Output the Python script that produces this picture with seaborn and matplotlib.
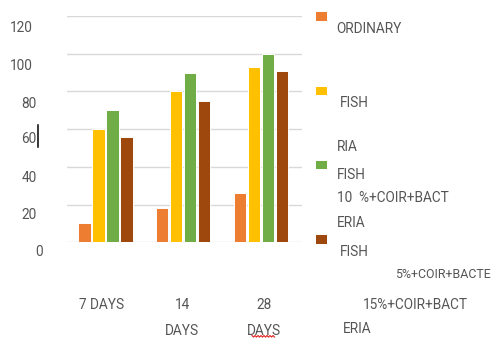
import matplotlib
matplotlib.use("Agg")
import matplotlib.pyplot as plt
import seaborn as sns
import pandas as pd
import numpy as np
from matplotlib.transforms import ScaledTranslation
from matplotlib.lines import Line2D

# ---- data -------------------------------------------------------------
days = ["7 DAYS", "14 DAYS", "28 DAYS"]
day_tick_labels = ["7 DAYS", "14\nDAYS", "28\nDAYS"]
mixes = ["ORDINARY", "FISH 5%+COIR+BACTERIA",
         "FISH 10%+COIR+BACTERIA", "FISH 15%+COIR+BACTERIA"]
ordinary = [10, 18, 26]
fish_5 = [60, 80, 93]
fish_10 = [70, 90, 100]
fish_15 = [56, 75, 91]
y_ticks = [0, 20, 40, 60, 80, 100, 120]
y_tick_labels = ["0", "20", "40", "60", "80", "100", "120"]
legend_fragments = ["ORDINARY", "FISH", "RIA", "FISH", "10  %+COIR+BACT",
                    "ERIA", "FISH", "5%+COIR+BACTE", "15%+COIR+BACT", "ERIA"]

colors = ["#ED7D31", "#FFC000", "#70AD47", "#9E480E"]
TEXT = "#555555"
FS = 9.8

df = pd.DataFrame({
    "day": days * len(mixes),
    "mix": [m for m in mixes for _ in days],
    "strength": ordinary + fish_5 + fish_10 + fish_15,
})

W, H, DPI = 497, 338, 100
plt.rcParams["font.family"] = ["Roboto", "DejaVu Sans"]

fig = plt.figure(figsize=(W / DPI, H / DPI), dpi=DPI)


def px(x, y):
    """pixel position (from top-left) -> figure fraction"""
    return x / W, 1 - y / H


ax = fig.add_axes([66.7 / W, 1 - 242.3 / H, (302 - 66.7) / W, (242.3 - 16) / H])

sns.barplot(data=df, x="day", y="strength", hue="mix", palette=colors,
            width=0.72, gap=0.12, edgecolor="white", linewidth=0.7,
            saturation=1, ax=ax, legend=True)

ax.set_xlim(-0.5, 2.53)
ax.set_ylim(0, 120)
ax.set_xlabel("")
ax.set_ylabel("")
for s in ax.spines.values():
    s.set_visible(False)
ax.set_axisbelow(True)
ax.yaxis.grid(True, color="#d9d9d9", lw=1.0)
ax.xaxis.grid(False)

# y tick labels, each nudged to its own spot
ax.set_yticks(y_ticks)
ax.set_yticklabels(y_tick_labels, fontsize=FS, color=TEXT)
ax.tick_params(axis="y", length=0, pad=0)
y_shift = {"0": (-23.4, 7.7), "20": (-30, 9.4), "40": (-30, 9.6),
           "60": (-30.7, 8.7), "80": (-30, 10.7), "100": (-34.4, 11),
           "120": (-34, 10.7)}
for lab in ax.get_yticklabels():
    dx, dy = y_shift[lab.get_text()]
    lab.set_transform(lab.get_transform() +
                      ScaledTranslation(dx / DPI, -dy / DPI, fig.dpi_scale_trans))

# x tick labels
ax.set_xticks(range(len(days)))
ax.set_xticklabels(day_tick_labels, fontsize=FS, color=TEXT,
                   linespacing=2.1, multialignment="center")
ax.tick_params(axis="x", length=0, pad=39.8)
for lab, dx in zip(ax.get_xticklabels(), [-3.5, -1, 3]):
    lab.set_transform(lab.get_transform() +
                      ScaledTranslation(dx / DPI, 0, fig.dpi_scale_trans))

# legend swatches only; text fragments are placed separately
handles, _ = ax.get_legend_handles_labels()
leg_fs = 8
ax.legend(handles, [""] * len(handles), loc="upper left",
          bbox_to_anchor=px(315, 11.3), bbox_transform=fig.transFigure,
          frameon=False, fontsize=leg_fs, borderpad=0, borderaxespad=0,
          handlelength=12.3 / (leg_fs * DPI / 72),
          handleheight=10.7 / (leg_fs * DPI / 72),
          handletextpad=0, labelspacing=5.72)

frag_pos = [(336, 28.3), (340, 101.7), (336.7, 146), (336.7, 174),
            (336.7, 196.7), (336.7, 221.7), (340, 250.7), (395, 273.3),
            (363.3, 304), (343.3, 328.3)]
frag_size = [FS] * len(legend_fragments)
frag_size[7] = 8.9
for txt, (x, y), fs in zip(legend_fragments, frag_pos, frag_size):
    fig.text(*px(x, y + 4.9), txt, fontsize=fs, color=TEXT,
             ha="left", va="baseline")

# text cursor beside the 60 label
fig.add_artist(Line2D([37.7 / W, 37.7 / W], [1 - 125 / H, 1 - 146.7 / H],
                      color="black", lw=1.1, transform=fig.transFigure))

# spell-check squiggle under the last "DAYS"
sx = np.arange(252, 276, 1.5)
sy = 336.3 + np.where(np.arange(len(sx)) % 2 == 0, -0.8, 0.8)
fig.add_artist(Line2D(sx / W, 1 - sy / H, color="#e02020", lw=0.8,
                      transform=fig.transFigure))

fig.savefig("out.png", dpi=DPI)
